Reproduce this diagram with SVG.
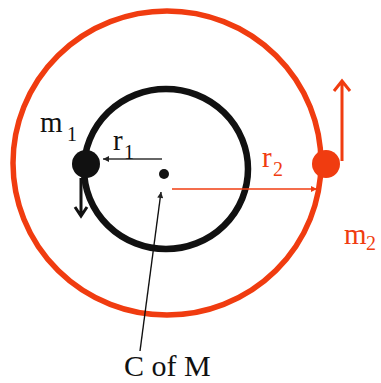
<svg xmlns="http://www.w3.org/2000/svg" width="381" height="383" viewBox="0 0 381 383">
<style>
.lbl{font-size:29px}
.sub{font-size:20px}
.big{font-size:30px}
.red{fill:#F03C10}
.blk{fill:#111}
</style>
<defs>
<marker id="tri-k" viewBox="0 0 10 10" refX="10" refY="5" markerWidth="7" markerHeight="6" markerUnits="userSpaceOnUse" orient="auto"><path d="M0,0 L10,5 L0,10 Z" fill="#222"/></marker>
<marker id="tri-r" viewBox="0 0 10 10" refX="10" refY="5" markerWidth="6" markerHeight="6" markerUnits="userSpaceOnUse" orient="auto"><path d="M0,0 L10,5 L0,10 Z" fill="#F03C10"/></marker>
</defs>
<rect width="381" height="383" fill="#fff"/>
<g id="orbit2"><ellipse cx="167" cy="163" rx="154" ry="152" fill="none" stroke="#F03C10" stroke-width="5.5"/></g>
<g id="orbit1"><ellipse cx="166" cy="169" rx="82" ry="80" fill="none" stroke="#111" stroke-width="6.5"/></g>
<g id="com"><circle cx="164" cy="174" r="5" fill="#111"/></g>
<g id="m1"><circle cx="86" cy="164" r="14" fill="#111"/></g>
<g id="m2"><circle cx="326" cy="164" r="14" fill="#F03C10"/></g>
<g id="connectors">
<line x1="162" y1="159" x2="103" y2="159" stroke="#333" stroke-width="1.6" marker-end="url(#tri-k)"/>
<line x1="172" y1="189" x2="317" y2="189" stroke="#F03C10" stroke-width="1.6" marker-end="url(#tri-r)"/>
<line x1="140" y1="351" x2="161" y2="192" stroke="#111" stroke-width="1.4" marker-end="url(#tri-k)"/>
<path d="M81,178 L81,216 M75,207 L81,216 L87,207" fill="none" stroke="#111" stroke-width="3"/>
<path d="M342,161 L342,81 M334,91 L342,81 L350,91" fill="none" stroke="#F03C10" stroke-width="3"/>
</g>
<g id="labels" font-family="'Liberation Serif', serif" style="font-family:'Liberation Serif', serif">
<text class="lbl blk" x="40" y="132">m</text><text class="sub blk" x="67" y="141">1</text>
<text class="lbl blk" x="113" y="150">r</text><text class="sub blk" x="124" y="159">1</text>
<text class="lbl red" x="262" y="167">r</text><text class="sub red" x="273" y="176">2</text>
<text class="lbl red" x="344" y="244">m</text><text class="sub red" x="366" y="250">2</text>
<text class="big blk" x="124" y="376">C of M</text>
</g>
</svg>
